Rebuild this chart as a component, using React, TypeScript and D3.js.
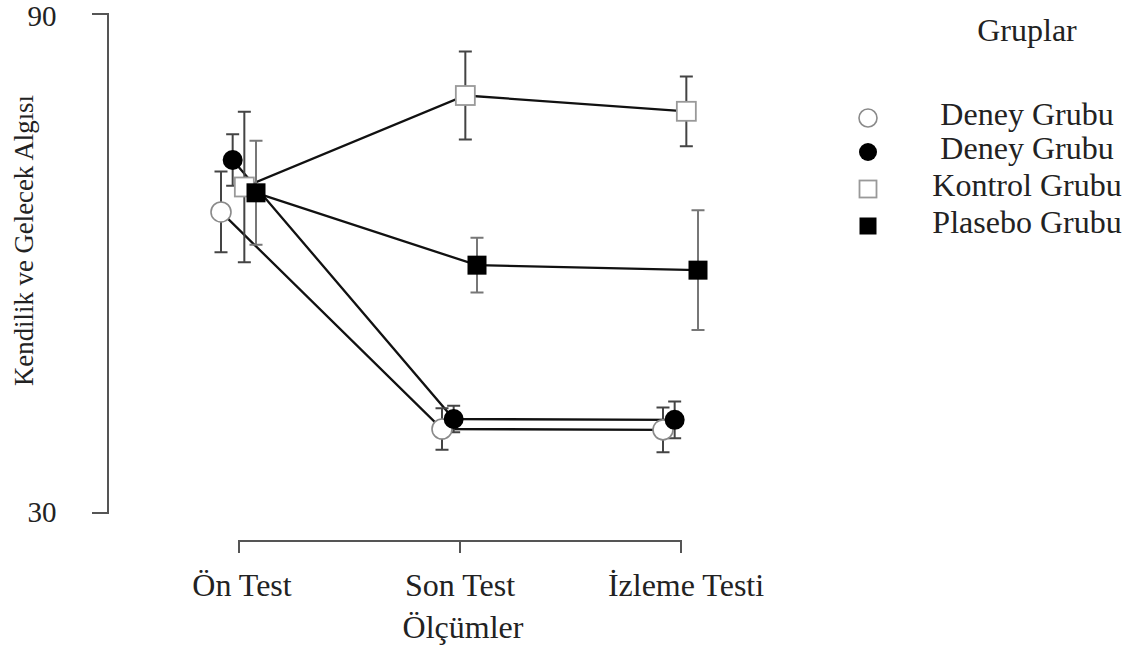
import * as d3 from "d3";

const categories = ["Ön Test", "Son Test", "İzleme Testi"];
const groups = ["Deney Grubu", "Deney Grubu ", "Kontrol Grubu", "Plasebo Grubu"];
const legendLabels = ["Deney Grubu", "Deney Grubu", "Kontrol Grubu", "Plasebo Grubu"];
const markers = ["circleOpen", "circleFilled", "squareOpen", "squareFilled"];

const means = [
  [66.2, 40.1, 40.0],
  [72.45, 41.3, 41.2],
  [69.2, 80.2, 78.3],
  [68.5, 59.8, 59.2],
];
const errors = [
  [4.85, 2.5, 2.7],
  [3.1, 1.6, 2.2],
  [9.05, 5.3, 4.2],
  [6.25, 3.3, 7.2],
];
const yTicks = [30, 90];

const W = 1131, H = 649;
const font = "'Liberation Serif', 'Times New Roman', serif";

function Marker({ kind, x, y, size }: { kind: string; x: number; y: number; size: number }) {
  if (kind === "circleOpen")
    return <circle cx={x} cy={y} r={size / 2} fill="#fff" stroke="#8a8a8a" strokeWidth={1.6} />;
  if (kind === "circleFilled") return <circle cx={x} cy={y} r={size / 2} fill="#000" />;
  if (kind === "squareOpen")
    return (
      <rect x={x - size / 2} y={y - size / 2} width={size} height={size} fill="#fff" stroke="#999" strokeWidth={1.8} />
    );
  return <rect x={x - size / 2} y={y - size / 2} width={size} height={size} fill="#000" />;
}

export default function App() {
  const y = d3.scaleLinear().domain([30, 90]).range([513, 14]);
  const x = d3.scalePoint<string>().domain(categories).range([239, 681]);
  const off = d3.scalePoint<string>().domain(groups).range([-18, 17]);
  const line = d3.line<[number, number]>().x((d) => d[0]).y((d) => d[1]);
  const axisColor = "#555";
  const fs = 32;

  return (
    <svg width={W} height={H} style={{ position: "absolute", left: 0, top: 0, background: "#fff" }}>
      {/* y axis */}
      <path d={`M92,${y(90)}H108V${y(30)}H92`} fill="none" stroke={axisColor} strokeWidth={2} />
      {yTicks.map((t) => (
        <text key={t} x={42} y={y(t) + (t === 90 ? 12 : 9)} textAnchor="middle" fontFamily={font} fontSize={29} fill="#222">
          {t}
        </text>
      ))}
      <text
        transform={`translate(33,${(y(30) + y(90)) / 2 - 23}) rotate(-90)`}
        textAnchor="middle"
        fontFamily={font}
        fontSize={26.8}
        fill="#222"
      >
        Kendilik ve Gelecek Algısı
      </text>

      {/* x axis */}
      <path
        d={`M${x(categories[0])},553V541H${x(categories[2])}V553M${x(categories[1])},541V553`}
        fill="none"
        stroke={axisColor}
        strokeWidth={2}
      />
      {categories.map((c, i) => (
        <text
          key={c}
          x={(x(c) as number) + [3, 0, 5][i]}
          y={596}
          textAnchor="middle"
          fontFamily={font}
          fontSize={fs}
          fill="#222"
        >
          {c}
        </text>
      ))}
      <text x={463} y={638} textAnchor="middle" fontFamily={font} fontSize={fs} fill="#222">
        Ölçümler
      </text>

      {/* lines */}
      {groups.map((g, gi) => (
        <path
          key={"l" + gi}
          d={line(categories.map((c, ci) => [(x(c) as number) + (off(g) as number), y(means[gi][ci])])) || ""}
          fill="none"
          stroke="#111"
          strokeWidth={2.3}
        />
      ))}

      {/* error bars */}
      {groups.map((g, gi) =>
        categories.map((c, ci) => {
          const cx = (x(c) as number) + (off(g) as number);
          const top = y(means[gi][ci] + errors[gi][ci]);
          const bot = y(means[gi][ci] - errors[gi][ci]);
          return (
            <path
              key={"e" + gi + ci}
              d={`M${cx},${top}V${bot}M${cx - 6.5},${top}H${cx + 6.5}M${cx - 6.5},${bot}H${cx + 6.5}`}
              stroke={gi === 3 ? "#777" : "#444"}
              strokeWidth={2}
              fill="none"
            />
          );
        })
      )}

      {/* markers */}
      {groups.map((g, gi) =>
        categories.map((c, ci) => (
          <Marker
            key={"m" + gi + ci}
            kind={markers[gi]}
            x={(x(c) as number) + (off(g) as number)}
            y={y(means[gi][ci])}
            size={gi < 2 ? 20 : 19}
          />
        ))
      )}

      {/* legend */}
      <text x={1027} y={41} textAnchor="middle" fontFamily={font} fontSize={fs} fill="#222">
        Gruplar
      </text>
      {legendLabels.map((l, i) => {
        const ly = [118, 152, 189, 226][i];
        return (
          <g key={"lg" + i}>
            <Marker kind={markers[i]} x={868} y={ly} size={i < 2 ? 18 : 17} />
            <text x={1027} y={ly + 7} textAnchor="middle" fontFamily={font} fontSize={fs} fill="#222">
              {l}
            </text>
          </g>
        );
      })}
    </svg>
  );
}
